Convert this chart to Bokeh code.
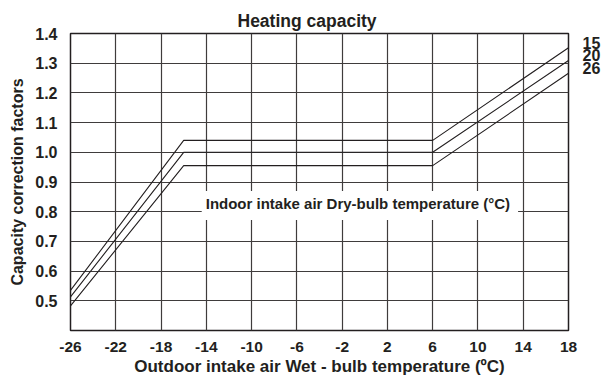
from bokeh.plotting import figure
from bokeh.models import Range1d, FixedTicker, Label, LinearAxis
from bokeh.embed import file_html
from bokeh.resources import INLINE

# Outdoor wet-bulb temperature breakpoints (°C)
outdoor_wb = [-26, -16, 6, 18]

# Capacity correction factor for each indoor dry-bulb temperature
indoor_db = ["15", "20", "26"]
factor_15 = [0.535, 1.04, 1.04, 1.352]
factor_20 = [0.513, 1.00, 1.00, 1.309]
factor_26 = [0.483, 0.955, 0.955, 1.266]
series = [factor_15, factor_20, factor_26]

x_ticks = list(range(-26, 19, 4))
y_ticks = [0.5, 0.6, 0.7, 0.8, 0.9, 1.0, 1.1, 1.2, 1.3, 1.4]

FONT = "Liberation Sans"
INK = "#231f20"
Y_MIN, Y_MAX = 0.4, 1.4
FRAME_H = 297

p = figure(width=603, height=378, output_backend="svg", toolbar_location=None,
           x_range=Range1d(-26, 18), y_range=Range1d(Y_MIN, Y_MAX),
           min_border_left=70, min_border_right=34, min_border_top=33,
           min_border_bottom=48, title="Heating capacity")

p.title.align = "left"
p.title.offset = 167
p.title.text_font = FONT
p.title.text_font_size = "17.5px"
p.title.text_font_style = "bold"
p.title.text_color = INK
p.title.standoff = 5

p.outline_line_color = INK
p.outline_line_width = 1.5
p.background_fill_color = "white"
p.border_fill_color = "white"

xax = p.xaxis[0]
yax = p.yaxis[0]

xax.ticker = FixedTicker(ticks=x_ticks)
xax.major_label_overrides = {v: str(v) for v in x_ticks}
yax.ticker = FixedTicker(ticks=y_ticks)
yax.major_label_overrides = {v: f"{v:.1f}" for v in y_ticks}

# Indoor temperature tags beside the right-hand end of each curve,
# lifted a few pixels above the line end
lift = 5 * (Y_MAX - Y_MIN) / FRAME_H
tag_pos = [round(s[-1] + lift, 3) for s in series]
tags = LinearAxis(ticker=FixedTicker(ticks=tag_pos),
                  major_label_overrides=dict(zip(tag_pos, indoor_db)))
p.add_layout(tags, "right")

def style_axis(ax, size):
    ax.axis_line_color = None
    ax.major_tick_line_color = None
    ax.minor_tick_line_color = None
    ax.major_label_text_font = FONT
    ax.major_label_text_font_style = "bold"
    ax.major_label_text_font_size = size
    ax.major_label_text_color = INK
    ax.axis_label_text_font = FONT
    ax.axis_label_text_font_style = "bold"
    ax.axis_label_text_color = INK

style_axis(xax, "15.5px")
style_axis(yax, "16px")
style_axis(tags, "16px")
tags.major_label_standoff = 8

xax.axis_label = "Outdoor intake air Wet - bulb temperature (ºC)"
xax.axis_label_text_font_size = "17px"
xax.major_label_standoff = 5
xax.axis_label_standoff = 2
yax.axis_label = "Capacity correction factors"
yax.axis_label_text_font_size = "16px"
yax.major_label_standoff = 7
yax.axis_label_standoff = 6

for g in (p.xgrid[0], p.ygrid[0]):
    g.grid_line_color = "#3f3c3c"
    g.grid_line_width = 1.2

for ys in series:
    p.line(outdoor_wb, ys, line_color=INK, line_width=1.1)

p.add_layout(Label(x=-0.43, y=0.821, text="Indoor intake air Dry-bulb temperature (°C)",
                   text_align="center", text_baseline="middle",
                   text_font=FONT, text_font_style="bold", text_font_size="15px",
                   text_color=INK, background_fill_color="white",
                   padding=(4, 8, 4, 8)))

open("out.html", "w").write(file_html(p, INLINE))
